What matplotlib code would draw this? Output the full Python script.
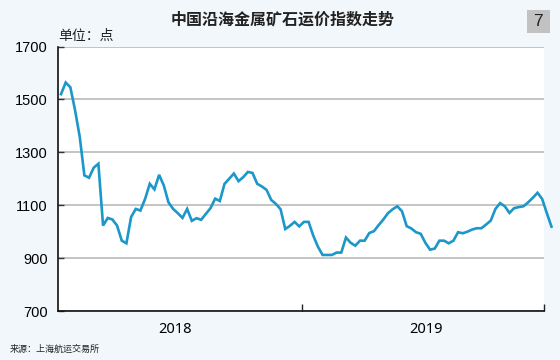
import matplotlib
matplotlib.use('Agg')
import matplotlib.pyplot as plt
from matplotlib.patches import Rectangle

# weekly index values (points)
index_values = [1520, 1564, 1546, 1460, 1360, 1213, 1204, 1242, 1257, 1023,
                1052, 1046, 1023, 966, 956, 1055, 1086, 1080, 1124, 1181,
                1160, 1215, 1175, 1111, 1086, 1070, 1052, 1086, 1041, 1051,
                1045, 1067, 1089, 1125, 1116, 1181, 1200, 1220, 1191, 1206,
                1226, 1222, 1181, 1171, 1158, 1120, 1105, 1085, 1010, 1022,
                1037, 1020, 1037, 1037, 985, 943, 912, 912, 912, 921,
                921, 978, 958, 947, 966, 966, 995, 1002, 1025, 1046,
                1070, 1085, 1096, 1077, 1021, 1012, 998, 992, 958, 932,
                936, 966, 966, 956, 966, 998, 994, 1000, 1008, 1013,
                1013, 1027, 1042, 1086, 1108, 1096, 1071, 1089, 1093, 1096,
                1111, 1128, 1147, 1124, 1070, 1019]
weeks = list(range(len(index_values)))

year_labels = ['2018', '2019']
year_centers = [24.5, 78.2]
year_bounds = [51.6, 103.5]
y_ticks = [700, 900, 1100, 1300, 1500, 1700]

title = '中国沿海金属矿石运价指数走势'
unit = '单位：点'
source = '来源：上海航运交易所'

cjk = ['Noto Sans CJK SC', 'DejaVu Sans']
bg = '#f2f7fb'
line_color = '#1b97c9'

fig = plt.figure(figsize=(5.6, 3.6), dpi=100, facecolor=bg)
ax = fig.add_axes([0.1027, 0.1361, 0.8696, 0.7345])
ax.set_facecolor('white')

ax.plot(weeks, index_values, color=line_color, linewidth=1.9, clip_on=False,
        solid_joinstyle='miter', zorder=3)

ax.set_xlim(-0.75, 103.5)
ax.set_ylim(700, 1700)
ax.set_yticks(y_ticks)
ax.set_yticklabels([str(v) for v in y_ticks], family='Liberation Sans', fontsize=10.5)
ax.tick_params(axis='y', direction='in', length=4, width=1, color='#333333', pad=7)
ax.yaxis.grid(True, color='#b4b4b4', linewidth=1.1)
ax.set_axisbelow(True)

ax.set_xticks(year_centers)
ax.set_xticklabels(year_labels, family='Noto Sans', fontsize=10.5)
ax.tick_params(axis='x', which='major', length=0, pad=8)
ax.set_xticks(year_bounds, minor=True)
ax.tick_params(axis='x', which='minor', direction='in', length=5, width=1, color='#222222')

for side in ['top', 'right']:
    ax.spines[side].set_visible(False)
for side in ['left', 'bottom']:
    ax.spines[side].set_color('#111111')
    ax.spines[side].set_linewidth(1.2)

fig.text(283 / 560, 1 - 20 / 360, title, family=cjk, fontsize=11.5, fontweight='bold',
         ha='center', va='center', color='#222222')
fig.text(58 / 560, 1 - 36 / 360, unit, family=cjk, fontsize=10, ha='left', va='center',
         color='#222222')
fig.text(10 / 560, 1 - 349 / 360, source, family=cjk, fontsize=6.5, ha='left', va='center',
         color='#222222')

# page number box
fig.patches.append(Rectangle((527 / 560, 1 - 33 / 360), 22.5 / 560, 23 / 360,
                             transform=fig.transFigure, facecolor='#c2c2c2',
                             edgecolor='none'))
fig.text(538.3 / 560, 1 - 21.5 / 360, '7', family='Liberation Sans', fontsize=12.5,
         ha='center', va='center', color='#222222')

fig.savefig('out.png', dpi=100, facecolor=bg)
